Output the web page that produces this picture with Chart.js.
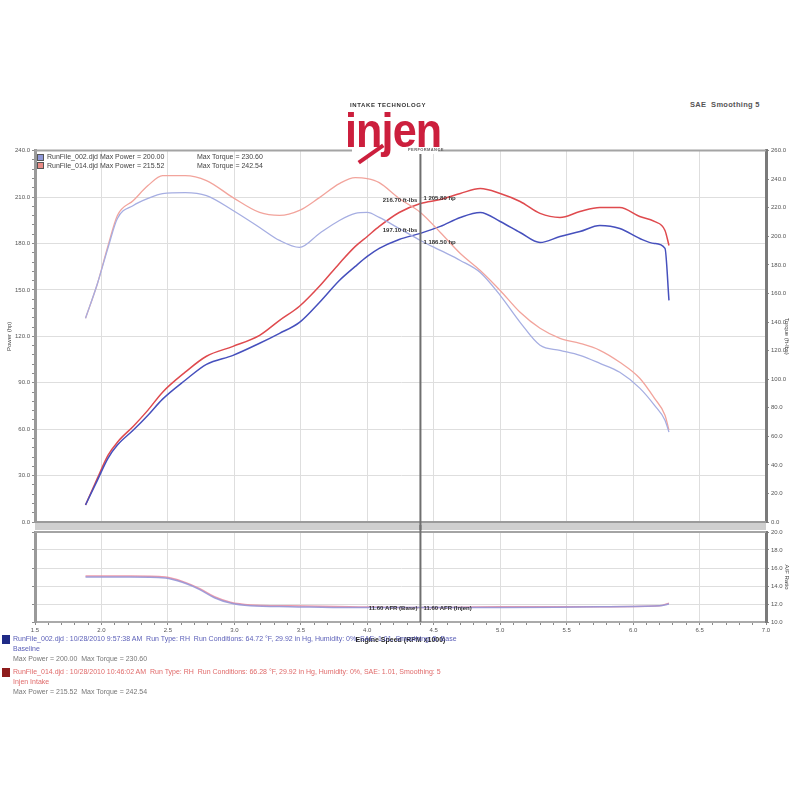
<!DOCTYPE html>
<html>
<head>
<meta charset="utf-8">
<script src="https://cdn.jsdelivr.net/npm/chart.js@4.4.0/dist/chart.umd.min.js"></script>
<style>
  body { margin: 0; width: 800px; height: 800px; background: #fff; position: relative; overflow: hidden;
         font-family: "Liberation Sans", Arial, sans-serif; }
  canvas { position: absolute; left: 0; }
  #main { top: 145px; }
  #afr { top: 525px; }
  #cover { position: absolute; left: 352px; top: 144px; width: 86px; height: 10px; background: #fff; }
  #logo { position: absolute; left: 338px; top: 100px; width: 116px; height: 60px; }
  #logo .tag { position: absolute; left: 12px; top: 2px; font: bold 6px "Liberation Sans", Arial; color: #333; letter-spacing: 0.6px; }
  #logo .brand { position: absolute; left: 7px; top: 6px; font: bold 49px "Liberation Sans", Arial; color: #cc1f3d; line-height: 1;
                 transform: scaleX(0.88); transform-origin: left top; letter-spacing: -1px; }
  #logo .sub { position: absolute; left: 70px; top: 47px; font: bold 4px "Liberation Sans", Arial; color: #666; letter-spacing: 0.4px; }
  #logo .slash { position: absolute; left: 18px; top: 52px; width: 30px; height: 4px; background: #cc1f3d; transform: rotate(-35deg); }
  #corner { position: absolute; left: 690px; top: 100px; font: bold 7.5px "Liberation Sans", Arial; color: #555; letter-spacing: 0.3px; }
  #inlegend { position: absolute; left: 37px; top: 153px; font: 7px "Liberation Sans", Arial; color: #444; }
  #inlegend .row { height: 8.5px; line-height: 8.5px; white-space: nowrap; }
  #inlegend .sq { display: inline-block; width: 5px; height: 5px; border: 1px solid #555; margin-right: 3px; vertical-align: middle; }
  #inlegend .a { display: inline-block; width: 150px; }
  #runs { position: absolute; left: 2px; top: 634px; font: 7px "Liberation Sans", Arial; }
  #runs .run { position: relative; padding-left: 11px; margin-bottom: 3px; }
  #runs .box { position: absolute; left: 0; top: 1px; width: 8px; height: 9px; }
  #runs .line { line-height: 10px; white-space: nowrap; }
  #runs .max { color: #777; }
</style>
</head>
<body>
<canvas id="main" width="800" height="385"></canvas>
<canvas id="afr" width="800" height="119"></canvas>
<div id="cover"></div>
<div id="logo">
  <div class="tag">INTAKE TECHNOLOGY</div>
  <div class="brand">injen</div>
  <div class="slash"></div>
  <div class="sub">PERFORMANCE</div>
</div>
<div id="corner">SAE&nbsp;&nbsp;Smoothing 5</div>
<div id="inlegend">
  <div class="row"><span class="sq" style="background:#8f98d8"></span><span class="a">RunFile_002.djd Max Power = 200.00</span>Max Torque = 230.60</div>
  <div class="row"><span class="sq" style="background:#e98b86"></span><span class="a">RunFile_014.djd Max Power = 215.52</span>Max Torque = 242.54</div>
</div>
<div id="runs">
  <div class="run">
    <div class="box" style="background:#1f2a86"></div>
    <div class="line" style="color:#5b5fb8">RunFile_002.djd : 10/28/2010 9:57:38 AM&nbsp; Run Type: RH&nbsp; Run Conditions: 64.72 °F, 29.92 in Hg, Humidity: 0%, SAE: 1.01, Smoothing: 5, Base</div>
    <div class="line" style="color:#5b5fb8">Baseline</div>
    <div class="line max">Max Power = 200.00&nbsp; Max Torque = 230.60</div>
  </div>
  <div class="run">
    <div class="box" style="background:#8e1c1c"></div>
    <div class="line" style="color:#e06a6a">RunFile_014.djd : 10/28/2010 10:46:02 AM&nbsp; Run Type: RH&nbsp; Run Conditions: 66.28 °F, 29.92 in Hg, Humidity: 0%, SAE: 1.01, Smoothing: 5</div>
    <div class="line" style="color:#e06a6a">Injen Intake</div>
    <div class="line max">Max Power = 215.52&nbsp; Max Torque = 242.54</div>
  </div>
</div>
<script>
// engine speed (RPM x1000) for the power / torque runs
const rpm = [1.88, 1.97, 2.05, 2.12, 2.24, 2.35, 2.46, 2.63, 2.79, 2.99, 3.19, 3.34, 3.49, 3.64, 3.79, 3.91, 4.00,
             4.09, 4.24, 4.40, 4.55, 4.70, 4.85, 5.00, 5.15, 5.30, 5.45, 5.60, 5.75, 5.90, 6.05, 6.16, 6.24, 6.27];
const redPower = [11.0, 28.4, 43.2, 51.6, 61.9, 72.3, 83.9, 96.8, 107.1, 113.5, 120.6, 130.3, 139.4, 152.3, 167.1, 178.1, 184.5,
                  191.0, 200.0, 205.8, 208.4, 212.3, 215.5, 212.3, 207.1, 199.4, 196.8, 200.6, 203.2, 203.2, 197.4, 194.2, 188.4, 178.7];
const bluePower = [11.0, 27.1, 41.3, 49.7, 59.4, 69.0, 79.4, 91.6, 101.9, 107.7, 115.5, 121.9, 129.0, 141.9, 156.1, 165.2, 171.6,
                   176.8, 182.6, 186.5, 191.0, 196.8, 200.0, 194.2, 187.1, 180.6, 184.5, 187.7, 191.6, 189.7, 183.2, 180.0, 176.8, 143.2];
const redTorque = [142.6, 167.0, 193.6, 214.6, 225.1, 235.5, 242.5, 242.5, 239.0, 227.1, 216.7, 214.6, 218.1, 227.1, 236.9, 241.1, 240.4,
                   237.6, 226.5, 216.7, 202.7, 188.0, 176.1, 162.1, 146.8, 135.6, 128.6, 125.1, 120.2, 111.8, 100.6, 86.7, 74.8, 64.3];
const blueTorque = [142.6, 167.0, 192.2, 212.5, 221.6, 226.5, 229.9, 230.6, 228.5, 218.1, 206.2, 197.1, 192.2, 202.0, 211.1, 216.0, 216.7,
                    213.2, 205.5, 197.1, 190.1, 183.1, 174.7, 158.7, 139.8, 123.7, 120.2, 116.7, 111.1, 104.8, 93.7, 81.8, 71.3, 62.9];

// air / fuel ratio panel
const afRpm = [1.88, 2.21, 2.48, 2.63, 2.74, 2.85, 2.97, 3.12, 3.42, 3.87, 4.39, 5.00, 5.75, 6.20, 6.27];
const redAfr = [15.1, 15.1, 15.0, 14.4, 13.7, 12.8, 12.2, 11.9, 11.8, 11.7, 11.6, 11.7, 11.7, 11.8, 12.1];
const blueAfr = [15.0, 15.0, 14.9, 14.3, 13.6, 12.7, 12.1, 11.8, 11.7, 11.6, 11.6, 11.6, 11.7, 11.8, 12.0];

// axis ranges: [min, max, major step, minor step]
const rpmAxis = [1.5, 7.0, 0.5, 0.1];
const powerAxis = [0, 240, 30, 6];
const torqueAxis = [0, 260, 20, 20];
const afrAxis = [10, 20, 2, 2];

const cursorIndex = 19;
const cursorRpm = rpm[cursorIndex];

const pts = (xs, ys) => xs.map((x, i) => ({ x: x, y: ys[i] }));
const steps = (a) => {
  const n = Math.round((a[1] - a[0]) / a[3]);
  return Array.from({ length: n + 1 }, (_, i) => +(a[0] + i * a[3]).toFixed(4));
};
const isMajor = (v, a) => Math.abs((v - a[0]) / a[2] - Math.round((v - a[0]) / a[2])) < 1e-6;

function axisFor(a, opts) {
  return Object.assign({
    type: 'linear', min: a[0], max: a[1],
    afterBuildTicks: s => { s.ticks = steps(a).map(v => ({ value: v })); },
    ticks: {
      autoSkip: false, maxRotation: 0, font: { size: 6, family: 'Liberation Sans' }, color: '#555', padding: 2,
      callback: v => isMajor(v, a) ? Number(v).toFixed(1) : ''
    },
    grid: {
      color: c => (c.tick && isMajor(c.tick.value, a)) ? '#dedede' : 'rgba(0,0,0,0)',
      tickColor: '#8a8a8a', tickLength: 3
    }
  }, opts);
}

const framePlugin = {
  id: 'frame',
  beforeDatasetsDraw(chart) {
    const { ctx, chartArea: a } = chart;
    ctx.save();
    ctx.strokeStyle = '#a4a4a4';
    ctx.lineWidth = 2;
    ctx.beginPath(); ctx.moveTo(a.left, a.top); ctx.lineTo(a.right, a.top); ctx.stroke();
    if (chart.canvas.id === 'main') {
      ctx.fillStyle = '#cfcfcf';
      ctx.fillRect(a.left, a.bottom, a.right - a.left, chart.height - a.bottom);
      ctx.strokeStyle = '#9a9a9a';
      ctx.beginPath(); ctx.moveTo(a.left, a.bottom); ctx.lineTo(a.right, a.bottom); ctx.stroke();
    }
    ctx.restore();
  }
};

const cursorPlugin = {
  id: 'cursor',
  afterDatasetsDraw(chart) {
    const { ctx, chartArea: a, scales } = chart;
    const px = scales.x.getPixelForValue(cursorRpm);
    const isMain = chart.canvas.id === 'main';
    ctx.save();
    ctx.strokeStyle = '#6f6f6f';
    ctx.lineWidth = 2;
    ctx.beginPath();
    ctx.moveTo(px, isMain ? a.top : 0);
    ctx.lineTo(px, isMain ? chart.height : a.bottom);
    ctx.stroke();
    ctx.font = 'bold 6px "Liberation Sans", Arial';
    ctx.fillStyle = '#333';
    ctx.textBaseline = 'middle';
    if (isMain) {
      const rows = [[redTorque, redPower, -5], [blueTorque, bluePower, 9]];
      rows.forEach(r => {
        const y = scales.yP.getPixelForValue(r[1][cursorIndex]);
        ctx.textAlign = 'right';
        ctx.fillText(r[0][cursorIndex].toFixed(2) + ' ft-lbs', px - 3, y - 3);
        ctx.textAlign = 'left';
        ctx.fillText('1 ' + r[1][cursorIndex].toFixed(2) + ' hp', px + 3, y + r[2]);
      });
    } else {
      const i = afRpm.indexOf(4.39);
      const y = scales.yR.getPixelForValue(redAfr[i]);
      ctx.textAlign = 'right';
      ctx.fillText(blueAfr[i].toFixed(2) + ' AFR (Base)', px - 3, y + 1);
      ctx.textAlign = 'left';
      ctx.fillText(redAfr[i].toFixed(2) + ' AFR (Injen)', px + 3, y + 1);
    }
    ctx.restore();
  }
};

const common = {
  responsive: false, animation: false, devicePixelRatio: 1,
  elements: { point: { radius: 0 }, line: { cubicInterpolationMode: 'monotone' } },
  plugins: { legend: { display: false }, tooltip: { enabled: false } }
};

new Chart(document.getElementById('main'), {
  type: 'line',
  data: {
    datasets: [
      { data: pts(rpm, blueTorque), yAxisID: 'yT', borderColor: '#a6aee2', borderWidth: 1.3 },
      { data: pts(rpm, redTorque), yAxisID: 'yT', borderColor: '#f2a49c', borderWidth: 1.3 },
      { data: pts(rpm, bluePower), yAxisID: 'yP', borderColor: '#4650bd', borderWidth: 1.5 },
      { data: pts(rpm, redPower), yAxisID: 'yP', borderColor: '#df4a4e', borderWidth: 1.5 }
    ]
  },
  options: Object.assign({}, common, {
    layout: { padding: { top: 5 } },
    scales: {
      x: {
        type: 'linear', min: rpmAxis[0], max: rpmAxis[1],
        ticks: { display: false, stepSize: rpmAxis[2] },
        grid: { color: '#dedede', drawTicks: false },
        border: { display: false },
        afterFit: s => { s.height = 8; }
      },
      yP: axisFor(powerAxis, {
        position: 'left',
        border: { color: '#9a9a9a', width: 3 },
        title: { display: true, text: 'Power (hp)', font: { size: 6, family: 'Liberation Sans' }, color: '#444', padding: { top: 6 } },
        afterFit: s => { s.width = 35; }
      }),
      yT: axisFor(torqueAxis, {
        position: 'right',
        grid: { drawOnChartArea: false, tickColor: '#8a8a8a', tickLength: 3 },
        border: { color: '#7a7a7a', width: 3 },
        title: { display: true, text: 'Torque (ft-lbs)', font: { size: 6, family: 'Liberation Sans' }, color: '#444', padding: { top: 10 } },
        afterFit: s => { s.width = 34; }
      })
    }
  }),
  plugins: [framePlugin, cursorPlugin]
});

new Chart(document.getElementById('afr'), {
  type: 'line',
  data: {
    datasets: [
      { data: pts(afRpm, blueAfr), yAxisID: 'yR', borderColor: 'rgba(150,150,215,0.9)', borderWidth: 1.5 },
      { data: pts(afRpm, redAfr), yAxisID: 'yR', borderColor: 'rgba(232,130,150,0.8)', borderWidth: 1.5 }
    ]
  },
  options: Object.assign({}, common, {
    layout: { padding: { top: 7 } },
    scales: {
      x: axisFor(rpmAxis, {
        border: { color: '#aaaaaa', width: 2 },
        title: { display: true, text: 'Engine Speed (RPM x1000)', font: { size: 7, weight: 'bold', family: 'Liberation Sans' }, color: '#222', padding: { top: 2, bottom: 0 } },
        afterFit: s => { s.height = 22; }
      }),
      yL: axisFor(afrAxis, {
        position: 'left',
        ticks: { display: false },
        border: { color: '#9a9a9a', width: 3 },
        afterFit: s => { s.width = 35; }
      }),
      yR: axisFor(afrAxis, {
        position: 'right',
        grid: { drawOnChartArea: false, tickColor: '#8a8a8a', tickLength: 3 },
        border: { color: '#7a7a7a', width: 3 },
        title: { display: true, text: 'A/F Ratio', font: { size: 6, family: 'Liberation Sans' }, color: '#444', padding: { top: 10 } },
        afterFit: s => { s.width = 34; }
      })
    }
  }),
  plugins: [framePlugin, cursorPlugin]
});
</script>
</body>
</html>
